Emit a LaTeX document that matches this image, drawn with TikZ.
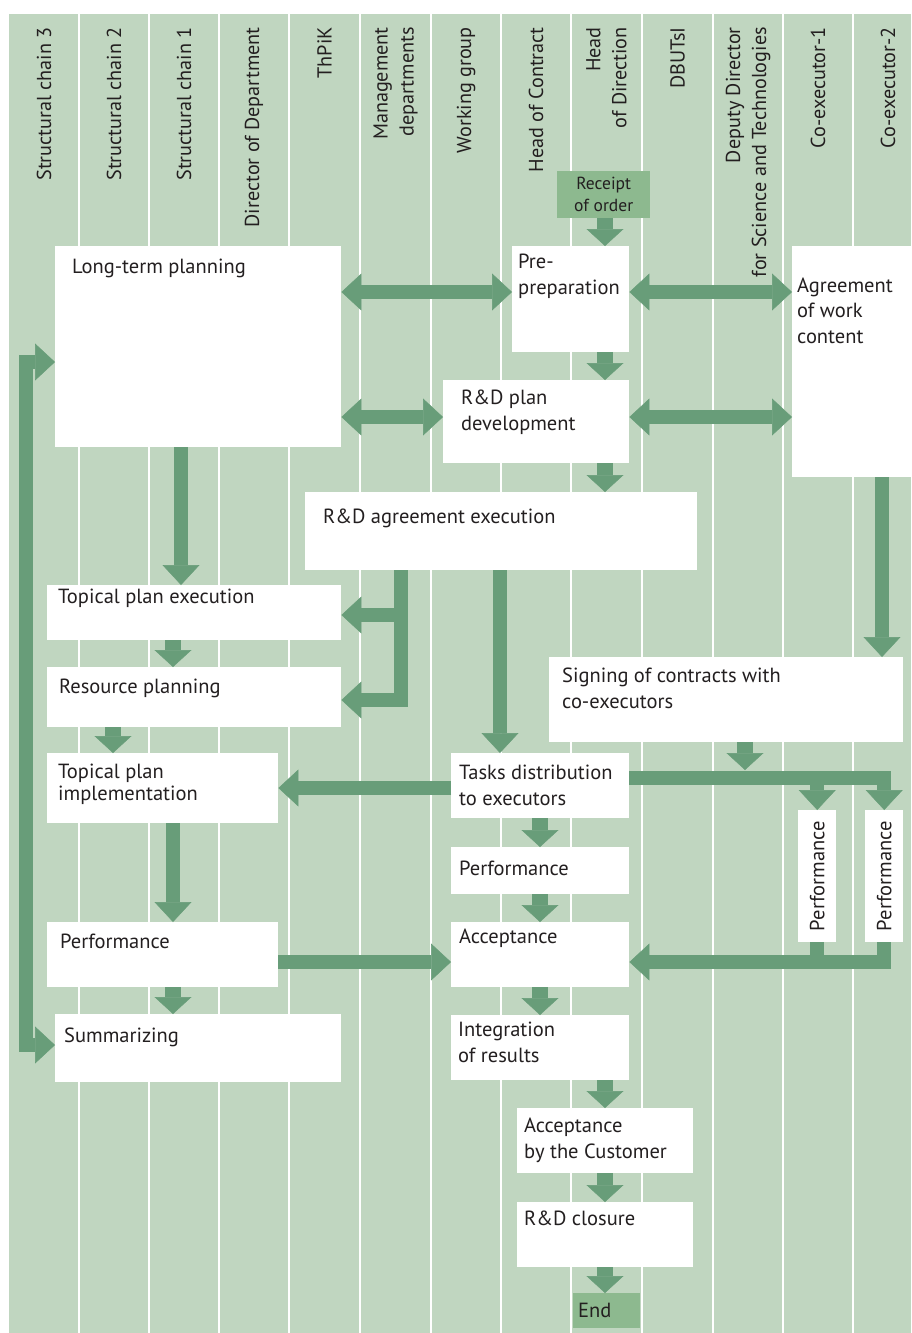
\documentclass[tikz,border=0pt]{standalone}
\usepackage{fontspec}
\setmainfont{PT Sans}
\usetikzlibrary{arrows.meta}
\definecolor{lane}{RGB}{192,214,192}
\definecolor{flow}{RGB}{104,157,121}
\definecolor{term}{RGB}{141,185,143}
\definecolor{ink}{RGB}{35,31,32}
\newcommand\bodyf{\fontsize{20.5}{25.5}\selectfont}
\newcommand\headf{\fontsize{20.2}{26}\selectfont}
\tikzset{
  fat/.tip={Triangle[width=37pt,length=20pt,line width=0.5pt]},
  fatsm/.tip={Triangle[width=37pt,length=17pt,line width=0.5pt]},
  big/.style={draw=flow,line width=14pt},
  small/.style={draw=flow,line width=16pt,-fatsm},
  box/.style={fill=white,draw=none,inner sep=0pt,anchor=north west},
  termbox/.style={fill=term,draw=none,inner sep=0pt,anchor=north west},
  txt/.style={anchor=base west,inner sep=0pt,align=left,font=\bodyf,text=ink},
  hdr/.style={rotate=90,anchor=east,inner sep=0pt,align=right,font=\headf,text=ink},
  lanesep/.style={draw=white,line width=2.5pt},
}
\newcommand\wbox[5]{\node[box,minimum width=#4pt,minimum height=#5pt] (#1) at (#2,#3) {};}
\begin{document}
\begin{tikzpicture}[x=1pt,y=-1pt]
\useasboundingbox (0,0) rectangle (911,1333);
% swimlane background and separators
\fill[lane] (9,14) rectangle (911,1333);
\foreach \x in {79,149,219,289,360,431,501,571,642,713,783,853}
  \draw[lanesep] (\x,14) -- (\x,1333);
% lane titles
\node[hdr] (h1) at (44,27) {Structural chain 3};
\node[hdr] (h2) at (114,27) {Structural chain 2};
\node[hdr] (h3) at (184,27) {Structural chain 1};
\node[hdr] (h4) at (254,27) {Director of Department};
\node[hdr] (h5) at (324.5,27) {ThPiK};
\node[hdr] (h6) at (395.5,27) {Management\\departments};
\node[hdr] (h7) at (466,27) {Working group};
\node[hdr] (h8) at (536,27) {Head of Contract};
\node[hdr] (h9) at (606.5,27) {Head\\of Direction};
\node[hdr] (h10) at (677.5,27) {DBUTsI};
\node[hdr] (h11) at (748,27) {Deputy Director\\for Science and Technologies};
\node[hdr] (h12) at (818,27) {Co-executor-1};
\node[hdr] (h13) at (888,27) {Co-executor-2};
% process boxes
\node[termbox,minimum width=93pt,minimum height=47pt] (recv) at (557,171) {};
\node[font=\fontsize{17.5}{22}\selectfont,text=ink,align=center,inner sep=0pt] (recvt) at (recv) {Receipt\\of order};
\wbox{ltp}{55}{246}{286}{201}
\wbox{pre}{512}{246}{117}{106}
\wbox{agr}{792}{246}{119}{231}
\wbox{rdp}{443}{380}{186}{83}
\wbox{rde}{305}{492}{392}{78}
\wbox{tpe}{47}{585}{294}{55}
\wbox{rp}{47}{667}{294}{60}
\wbox{sig}{549}{657}{354}{85}
\wbox{task}{451}{753}{178}{65}
\wbox{tpi}{47}{753}{231}{70}
\wbox{perfL}{47}{922}{231}{65}
\wbox{summ}{55}{1014}{286}{68}
\wbox{perfM}{451}{847}{178}{47}
\wbox{acc}{451}{922}{178}{65}
\wbox{integ}{451}{1015}{178}{65}
\wbox{accC}{517}{1108}{176}{65}
\wbox{clos}{517}{1202}{176}{65}
\wbox{perf1}{798}{810}{38}{132}
\wbox{perf2}{865}{810}{38}{132}
\node[termbox,minimum width=67pt,minimum height=35pt] (fin) at (573,1293) {};
% box labels (multi-line labels are placed by the baseline of their last line)
\node[txt] (ltpt) at (72,273) {Long-term planning};
\node[txt] (pret) at (518,294) {Pre-\\preparation};
\node[txt] (agrt) at (797,343) {Agreement\\of work\\content};
\node[txt] (rdpt) at (461,430) {R\&D plan\\development};
\node[txt] (rdet) at (323,523) {R\&D agreement execution};
\node[txt] (tpet) at (58,603) {Topical plan execution};
\node[txt] (rpt) at (59,693) {Resource planning};
\node[txt] (sigt) at (562,708) {Signing of contracts with\\co-executors};
\node[txt] (taskt) at (459,805) {Tasks distribution\\to executors};
\node[txt,font=\fontsize{20.5}{22}\selectfont] (tpit) at (58,800) {Topical plan\\implementation};
\node[txt] (perfLt) at (60,948) {Performance};
\node[txt] (summt) at (64,1042) {Summarizing};
\node[txt] (perfMt) at (459,875) {Performance};
\node[txt] (acct) at (459,943) {Acceptance};
\node[txt] (integt) at (458,1062) {Integration\\of results};
\node[txt] (accCt) at (524,1158) {Acceptance\\by the Customer};
\node[txt] (clost) at (524,1225) {R\&D closure};
\node[txt] (fint) at (578,1317) {End};
\node[rotate=90,inner sep=0pt,font=\bodyf,text=ink] (perf1t) at (perf1) {Performance};
\node[rotate=90,inner sep=0pt,font=\bodyf,text=ink] (perf2t) at (perf2) {Performance};
% short steps between consecutive boxes
\draw[small] (recv.south -| 605,0) -- (pre.north -| 605,0);
\draw[small] (pre.south -| 605,0) -- (rdp.north -| 605,0);
\draw[small] (rdp.south -| 605,0) -- (rde.north -| 605,0);
\draw[small] (tpe.south -| 173,0) -- (rp.north -| 173,0);
\draw[small] (rp.south -| 113,0) -- (tpi.north -| 113,0);
\draw[small] (sig.south -| 745,0) -- (745,770);
\draw[small] (task.south -| 540,0) -- (perfM.north -| 540,0);
\draw[small] (perfM.south -| 540,0) -- (acc.north -| 540,0);
\draw[small] (acc.south -| 540,0) -- (integ.north -| 540,0);
\draw[small] (perfL.south -| 173,0) -- (summ.north -| 173,0);
\draw[small] (integ.south -| 605,0) -- (accC.north -| 605,0);
\draw[small] (accC.south -| 605,0) -- (clos.north -| 605,0);
\draw[small] (clos.south -| 605,0) -- (fin.north -| 605,0);
% exchanges between planning boxes
\draw[big,fat-fat] (ltp.east |- 0,292) -- (pre.west |- 0,292);
\draw[big,fat-fat] (pre.east |- 0,292) -- (agr.west |- 0,292);
\draw[big,fat-fat] (ltp.east |- 0,417) -- (rdp.west |- 0,417);
\draw[big,fat-fat] (rdp.east |- 0,417) -- (agr.west |- 0,417);
% feedback loop between planning and summarizing
\draw[big,fat-fat] (ltp.west |- 0,362) -- (26,362) -- (26,1045) -- (summ.west |- 0,1045);
% long transitions
\draw[big,-fat] (ltp.south -| 181,0) -- (tpe.north -| 181,0);
\draw[big,-fat] (rde.south -| 500,0) -- (task.north -| 500,0);
\draw[big,-fat] (agr.south -| 882,0) -- (sig.north -| 882,0);
\coordinate (split) at (401,615);
\draw[big,-fat] (rde.south -| 401,0) -- (401,700) -- (rp.east |- 0,700);
\draw[big,-fat] (split) -- (tpe.east |- split);
\draw[big,-fat] (task.west |- 0,788) -- (tpi.east |- 0,788);
\draw[big,-fat] (tpi.south -| 173,0) -- (perfL.north -| 173,0);
\draw[big,-fat] (perfL.east |- 0,962) -- (acc.west |- 0,962);
% co-executor branch
\draw[big,-fat] (task.east |- 0,778) -- (perf2.north |- 0,778) -- (perf2.north);
\draw[big,-fat] (perf1.north |- 0,778) -- (perf1.north);
\draw[big,-fat] (perf2.south) -- (perf2.south |- 0,962) -- (acc.east |- 0,962);
\draw[big] (perf1.south) -- (perf1.south |- 0,962);
\end{tikzpicture}
\end{document}
